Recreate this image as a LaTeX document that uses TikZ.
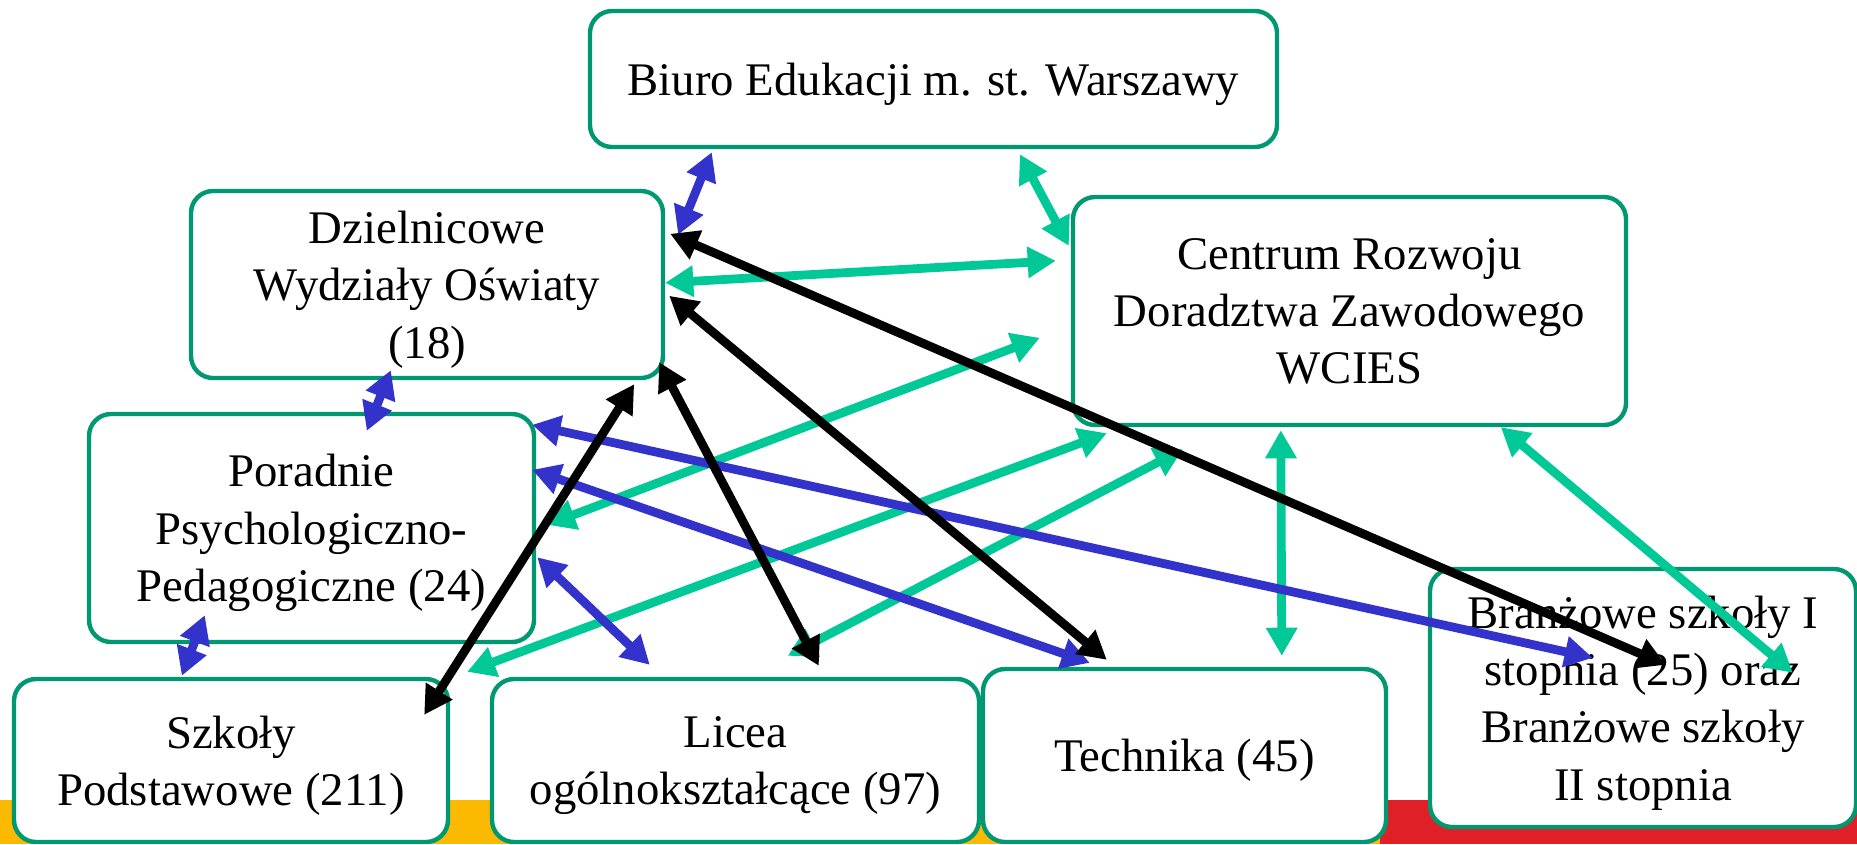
\documentclass[tikz,border=0pt]{standalone}
\usepackage{fontspec}
\setmainfont{Liberation Serif}
\usepackage{tikz}
\usetikzlibrary{arrows.meta}
\definecolor{custom_teal}{HTML}{009872}
\definecolor{custom_green}{HTML}{00C896}
\definecolor{custom_blue}{HTML}{3333CC}
\definecolor{custom_yellow}{HTML}{FBBA00}
\definecolor{custom_red}{HTML}{DF2027}

\begin{document}
\begin{tikzpicture}[>={Triangle[length=8pt, width=8.5pt]}, x=0.1mm, y=-0.1mm,
  every node/.style={font=\fontsize{13.3}{16.3}\selectfont},
  unit/.style={draw=custom_teal, line width=1.25pt, fill=white, rounded corners=2.2mm, align=center, inner sep=0pt,
    text depth=-1.8pt},
  link/.style={<->, line width=2.5pt}]

  \useasboundingbox (0,0) rectangle (1857,844);
  % coloured strip at the bottom
  \fill[custom_yellow] (0,800) rectangle (1380,844);
  \fill[custom_red] (1380,800) rectangle (1857,844);

  \node[unit, minimum width=68.7mm, minimum height=13.6mm] (biuro) at (933.5,79) {Biuro Edukacji m. st. Warszawy};
  \node[unit, minimum width=47.2mm, minimum height=18.7mm] (dzielnice) at (427,284.5) {Dzielnicowe\\Wydziały Oświaty\\(18)};
  \node[unit, minimum width=55.3mm, minimum height=22.8mm] (centrum) at (1349.5,311) {Centrum Rozwoju\\Doradztwa Zawodowego\\WCIES};
  \node[unit, minimum width=44.5mm, minimum height=22.8mm] (poradnie) at (311.5,528) {Poradnie\\Psychologiczno-\\Pedagogiczne (24)};
  \node[unit, minimum width=43.4mm, minimum height=16.3mm] (szkoly) at (231,760.5) {Szkoły\\Podstawowe (211)};
  \node[unit, minimum width=48.7mm, minimum height=16.3mm] (licea) at (735.5,760.5) {Licea\\ogólnokształcące (97)};
  \node[unit, minimum width=40.3mm, minimum height=17.3mm] (technika) at (1184.5,755.5) {Technika (45)};
  \node[unit, minimum width=42.6mm, minimum height=25.8mm] (branzowe) at (1643,698) {Branżowe szkoły I\\stopnia (25) oraz\\Branżowe szkoły\\II stopnia};

  % links of the centre
  \draw[link, custom_green] ([shift={(432,5)}]biuro.south west) -- ([shift={(-2,51)}]centrum.north west);
  \draw[link, custom_green] ([shift={(0,94)}]dzielnice.north east) -- ([shift={(-15,66)}]centrum.north west);
  \draw[link, custom_green] ([shift={(11,113)}]poradnie.north east) -- ([shift={(-31,143)}]centrum.north west);
  \draw[link, custom_green] ([shift={(17,-5)}]szkoly.north east) -- ([shift={(36,6)}]centrum.south west);
  \draw[link, custom_green] ([shift={(298,-21)}]licea.north west) -- ([shift={(112,22)}]centrum.south west);
  \draw[link, custom_green] ([shift={(210,3)}]centrum.south west) -- ([shift={(301,-11)}]technika.north west);
  \draw[link, custom_green] ([shift={(430,0)}]centrum.south west) -- ([shift={(365,106)}]branzowe.north west);

  \draw[link, custom_blue] ([shift={(124,3)}]biuro.south west) -- ([shift={(13,46)}]dzielnice.north east);
  \draw[link, custom_blue] ([shift={(202,-10)}]dzielnice.south west) -- ([shift={(280,19)}]poradnie.north west);
  \draw[link, custom_blue] ([shift={(118,-29)}]poradnie.south west) -- ([shift={(170,-1)}]szkoly.north west);
  \draw[link, custom_blue] ([shift={(1,-87)}]poradnie.south east) -- ([shift={(160,-12)}]licea.north west);
  \draw[link, custom_blue] ([shift={(-4,58)}]poradnie.north east) -- ([shift={(109,-4)}]technika.north west);
  \draw[link, custom_blue] ([shift={(-4,13)}]poradnie.north east) -- ([shift={(165,91)}]branzowe.north west);

  % district offices to the schools
  \draw[link, black] ([shift={(5,45)}]dzielnice.north east) -- ([shift={(238,98)}]branzowe.north west);
  \draw[link, black] ([shift={(4,107)}]dzielnice.north east) -- ([shift={(126,-7)}]technika.north west);
  \draw[link, black] ([shift={(-6,-18)}]dzielnice.south east) -- ([shift={(329,-11)}]licea.north west);
  \draw[link, black] ([shift={(-31,4)}]dzielnice.south east) -- ([shift={(-26,38)}]szkoly.north east);

\end{tikzpicture}
\end{document}
